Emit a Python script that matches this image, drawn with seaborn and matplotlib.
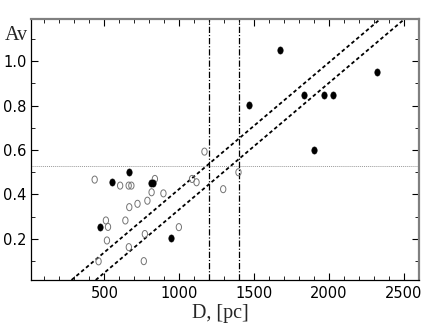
import numpy as np
import matplotlib
matplotlib.use("Agg")
import matplotlib.pyplot as plt
from matplotlib.path import Path
from matplotlib.ticker import MultipleLocator
import seaborn as sns

# Distance D [pc] and extinction Av, open and filled symbols
open_d = [435, 605, 662, 680, 837, 1085, 1115, 815, 894, 787, 721, 666,
          510, 640, 524, 997, 770, 517, 663, 461, 763, 1293, 1395, 1168]
open_av = [0.467, 0.440, 0.440, 0.440, 0.470, 0.470, 0.455, 0.410, 0.405,
           0.372, 0.358, 0.343, 0.283, 0.283, 0.254, 0.253, 0.222, 0.193,
           0.163, 0.099, 0.100, 0.424, 0.500, 0.593]

filled_d = [470, 548, 665, 808, 822, 945, 1468, 1675, 1830, 1896, 1968, 2025, 2322]
filled_av = [0.253, 0.455, 0.502, 0.452, 0.452, 0.203, 0.801, 1.049, 0.850,
             0.601, 0.850, 0.850, 0.951]

# reference lines
fit_slope = 0.00057
fit_intercepts = [-0.145, -0.237]
d_limits = [1200, 1400]
av_level = 0.528

sns.set_style("ticks")
plt.rcParams["font.family"] = ["Liberation Sans Narrow", "DejaVu Sans"]

fig = plt.figure(figsize=(4.36, 3.27), dpi=100)
ax = fig.add_axes([0.0711, 0.1437, 0.8899, 0.7982])

# slightly tall ellipse used as marker
th = np.linspace(0, 2 * np.pi, 60)
ell = Path(np.column_stack([0.75 * np.cos(th), np.sin(th)]))

ax.axhline(av_level, color="0.6", lw=0.7, ls=(0, (1, 1)), zorder=1)
for d in d_limits:
    ax.axvline(d, color="black", lw=0.9, ls=(0, (5, 1.5, 1, 1.5)), zorder=1)
for b in fit_intercepts:
    ax.axline((0, b), slope=fit_slope, color="black", lw=1.3, ls=(0, (2, 1.5)), zorder=1)

sns.scatterplot(x=open_d, y=open_av, ax=ax, marker=ell, s=26, color="none",
                edgecolor="0.45", linewidth=0.7, zorder=3)
sns.scatterplot(x=filled_d, y=filled_av, ax=ax, marker=ell, s=26, color="black",
                edgecolor="black", linewidth=0.5, zorder=4)

ax.set_xlim(10, 2600)
ax.set_ylim(0.015, 1.19)
ax.xaxis.set_major_locator(MultipleLocator(500))
ax.xaxis.set_minor_locator(MultipleLocator(100))
ax.yaxis.set_major_locator(MultipleLocator(0.2))
ax.yaxis.set_minor_locator(MultipleLocator(0.1))
ax.set_xticks([500, 1000, 1500, 2000, 2500])
ax.set_yticks([0.2, 0.4, 0.6, 0.8, 1.0])
ax.yaxis.set_major_formatter(matplotlib.ticker.FormatStrFormatter("%.1f"))
ax.tick_params(which="both", direction="in", top=True, right=True,
               labelsize=10.5, colors="black")
ax.tick_params(which="major", length=5, width=0.8, pad=4)
ax.tick_params(which="minor", length=3, width=0.6)
ax.tick_params(axis="y", which="major", pad=3)

for side in ["top", "right"]:
    ax.spines[side].set_color("0.5")
    ax.spines[side].set_linewidth(1.6)
for side in ["left", "bottom"]:
    ax.spines[side].set_color("black")
    ax.spines[side].set_linewidth(0.9)

ax.set_xlabel("")
ax.set_ylabel("")
ax.text(-0.038, 0.937, "Av", transform=ax.transAxes, ha="center", va="center",
        fontsize=14.5, family=["Liberation Serif", "DejaVu Serif"])
ax.text(0.487, -0.13, "D, [pc]", transform=ax.transAxes, ha="center", va="center",
        fontsize=14.5, family=["Liberation Serif", "DejaVu Serif"])

fig.savefig("out.png", dpi=100)
